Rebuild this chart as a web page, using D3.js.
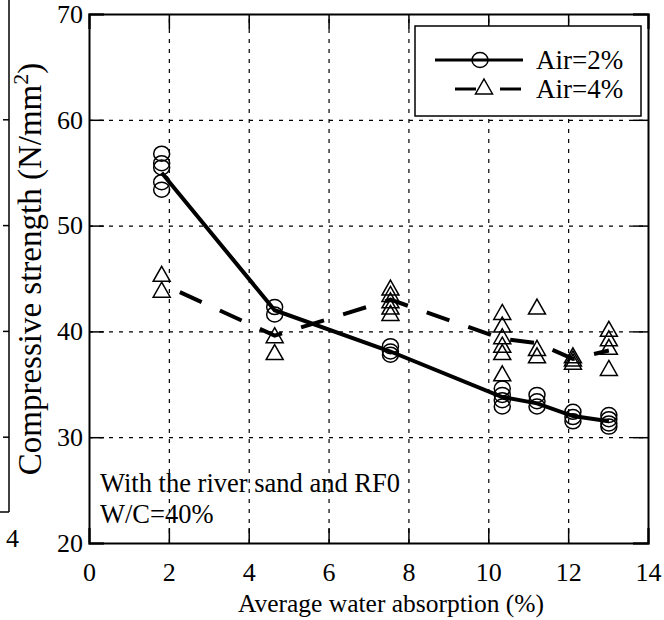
<!DOCTYPE html>
<html lang="en">
<head>
<meta charset="UTF-8">
<title>Compressive strength vs water absorption</title>
<script src="https://d3js.org/d3.v7.min.js"></script>
<style>
  body { margin: 0; background: #fff; }
  .grid line { stroke: #000; stroke-width: 1.2; stroke-dasharray: 4,6; }
  .grid .domain { display: none; }
</style>
</head>
<body>
<svg width="664" height="620"></svg>
<script>
// average water absorption (%) of each aggregate group
var groupX = [1.82, 4.65, 7.55, 10.35, 11.22, 12.12, 13.02];

// Air = 2 %: single specimens and mean line
var air2Points = [
  [56.8, 55.9, 55.5, 54.1, 53.4],
  [42.3, 41.6],
  [38.6, 38.1, 37.8],
  [34.6, 34.0, 33.5, 32.9],
  [34.0, 33.4, 32.9],
  [32.4, 31.9, 31.5],
  [32.1, 31.7, 31.3, 31.0]
];
var air2Mean = [55.0, 42.0, 38.1, 33.8, 33.2, 32.0, 31.5];

// Air = 4 %
var air4Points = [
  [45.3, 43.8],
  [39.5, 37.9],
  [44.0, 43.4, 42.8, 42.2, 41.6],
  [41.7, 40.5, 39.4, 38.6, 37.9, 35.9],
  [42.2, 38.3, 37.6],
  [37.6, 37.3, 37.0],
  [40.1, 39.2, 38.4, 36.4]
];
var air4Mean = [44.5, 39.6, 43.0, 39.3, 38.9, 37.4, 38.2];

var xTicks = [0, 2, 4, 6, 8, 10, 12, 14];
var yTicks = [20, 30, 40, 50, 60, 70];

var serif = "'Liberation Serif', 'Times New Roman', serif";

var svg = d3.select("svg").style("font-family", serif),
    margin = {left: 89, top: 14, right: 16, bottom: 77},
    width = 664 - margin.left - margin.right,
    height = 620 - margin.top - margin.bottom;

var x = d3.scaleLinear().domain([0, 14]).range([0, width]),
    y = d3.scaleLinear().domain([20, 70]).range([height, 0]);

// bit of the neighbouring figure cut off at the left edge
var frag = svg.append("g").attr("stroke", "#000").attr("stroke-width", 1.5);
frag.append("line").attr("x1", 9).attr("x2", 9).attr("y1", 0).attr("y2", 512);
frag.append("line").attr("x1", 0).attr("x2", 9).attr("y1", 512).attr("y2", 512);
[30, 40, 50, 60].forEach(function(v) {
  frag.append("line").attr("x1", 3).attr("x2", 9)
      .attr("y1", margin.top + y(v)).attr("y2", margin.top + y(v));
});
svg.append("text").attr("x", 6).attr("y", 547)
   .attr("font-size", 26).text("4");

var g = svg.append("g")
    .attr("transform", "translate(" + margin.left + "," + margin.top + ")");

// dotted grid
g.append("g").attr("class", "grid")
  .attr("transform", "translate(0," + height + ")")
  .call(d3.axisBottom(x).tickValues(xTicks.slice(1, -1)).tickSize(-height).tickFormat(""));
g.append("g").attr("class", "grid")
  .call(d3.axisLeft(y).tickValues(yTicks.slice(1, -1)).tickSize(-width).tickFormat(""));

// axes with inward ticks on all sides
g.append("g")
  .attr("transform", "translate(0," + height + ")")
  .call(d3.axisBottom(x).tickValues(xTicks).tickSize(-15).tickPadding(20));
g.append("g")
  .call(d3.axisTop(x).tickValues(xTicks).tickSize(-15).tickFormat(""));
g.append("g")
  .call(d3.axisLeft(y).tickValues(yTicks).tickSize(-15).tickPadding(6));
g.append("g")
  .attr("transform", "translate(" + width + ",0)")
  .call(d3.axisRight(y).tickValues(yTicks).tickSize(-15).tickFormat(""));
g.selectAll(".domain").attr("stroke-width", 2);
g.selectAll(".tick line").attr("stroke-width", 1.5);
g.selectAll(".tick text")
  .style("font-family", serif).style("font-size", "26px").attr("fill", "#000");

// markers
var circ = [], tri = [];
groupX.forEach(function(gx, i) {
  air2Points[i].forEach(function(v) { circ.push([gx, v]); });
  air4Points[i].forEach(function(v) { tri.push([gx, v]); });
});

g.selectAll(".c").data(circ).enter().append("ellipse")
  .attr("cx", function(d) { return x(d[0]); })
  .attr("cy", function(d) { return y(d[1]); })
  .attr("rx", 8).attr("ry", 7.5)
  .attr("fill", "none").attr("stroke", "#000").attr("stroke-width", 1.5);

var triPath = "M0,-9L8.5,6L-8.5,6Z";
g.selectAll(".t").data(tri).enter().append("path")
  .attr("d", triPath)
  .attr("transform", function(d) { return "translate(" + x(d[0]) + "," + y(d[1]) + ")"; })
  .attr("fill", "none").attr("stroke", "#000").attr("stroke-width", 1.5);

// mean lines
var line = d3.line()
  .x(function(d) { return x(d[0]); })
  .y(function(d) { return y(d[1]); });

g.append("path")
  .datum(groupX.map(function(gx, i) { return [gx, air2Mean[i]]; }))
  .attr("d", line).attr("fill", "none")
  .attr("stroke", "#000").attr("stroke-width", 4);

g.append("path")
  .datum(groupX.map(function(gx, i) { return [gx, air4Mean[i]]; }))
  .attr("d", line).attr("fill", "none")
  .attr("stroke", "#000").attr("stroke-width", 4)
  .attr("stroke-dasharray", "24,20").attr("stroke-dashoffset", 24);

// legend
var lg = svg.append("g");
lg.append("rect").attr("x", 415).attr("y", 26).attr("width", 226).attr("height", 90)
  .attr("fill", "#fff").attr("stroke", "#000").attr("stroke-width", 1.5);
lg.append("line").attr("x1", 435).attr("x2", 523).attr("y1", 60).attr("y2", 60)
  .attr("stroke", "#000").attr("stroke-width", 3);
lg.append("ellipse").attr("cx", 480).attr("cy", 60).attr("rx", 8).attr("ry", 7.5)
  .attr("fill", "none").attr("stroke", "#000").attr("stroke-width", 1.5);
lg.append("line").attr("x1", 455).attr("x2", 476).attr("y1", 89).attr("y2", 89)
  .attr("stroke", "#000").attr("stroke-width", 3);
lg.append("line").attr("x1", 500).attr("x2", 521).attr("y1", 89).attr("y2", 89)
  .attr("stroke", "#000").attr("stroke-width", 3);
lg.append("path").attr("d", triPath).attr("transform", "translate(484,88)")
  .attr("fill", "#fff").attr("stroke", "#000").attr("stroke-width", 1.5);
lg.append("text").attr("x", 536).attr("y", 69).attr("font-size", 27).text("Air=2%");
lg.append("text").attr("x", 536).attr("y", 98).attr("font-size", 27).text("Air=4%");

// notes and titles
g.append("text").attr("x", 11).attr("y", 478).attr("font-size", 26.5)
  .text("With the river sand and RF0");
g.append("text").attr("x", 11).attr("y", 509).attr("font-size", 26.5)
  .text("W/C=40%");

svg.append("text")
  .attr("x", 391).attr("y", 612)
  .attr("text-anchor", "middle").attr("font-size", 25.5)
  .text("Average water absorption (%)");

var yt = svg.append("text")
  .attr("transform", "translate(41,269) rotate(-90)")
  .attr("text-anchor", "middle").attr("font-size", 33);
yt.append("tspan").text("Compressive strength (N/mm");
yt.append("tspan").attr("dy", -13).attr("font-size", 22).text("2");
yt.append("tspan").attr("dy", 13).text(")");
</script>
</body>
</html>
